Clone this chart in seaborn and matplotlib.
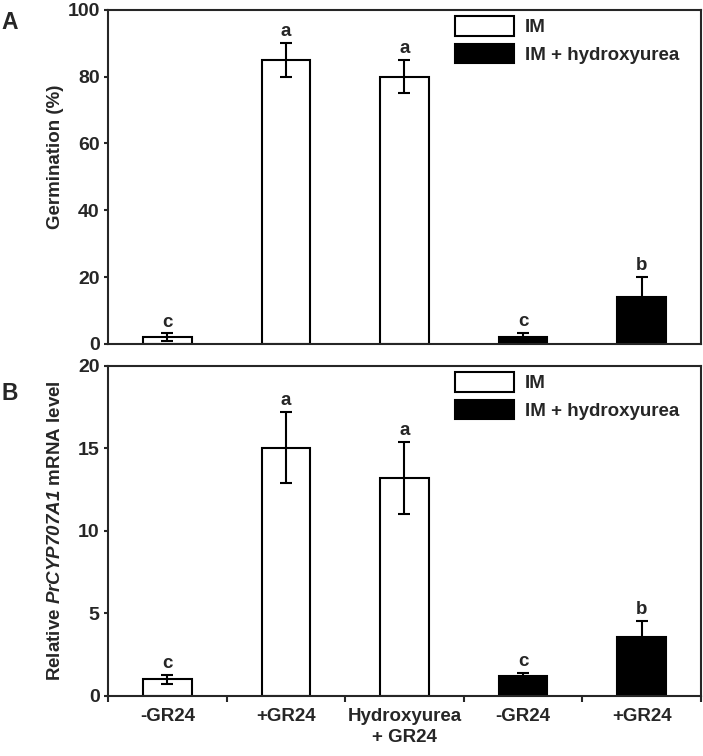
import numpy as np
import pandas as pd
import seaborn as sns
import matplotlib.pyplot as plt
from matplotlib.patches import Patch

# condition keys (unique) and displayed tick labels
conds = ["IM -GR24", "IM +GR24", "IM Hydroxyurea + GR24", "HU -GR24", "HU +GR24"]
tick_labels = ["-GR24", "+GR24", "Hydroxyurea\n+ GR24", "-GR24", "+GR24"]
medium = ["IM", "IM", "IM", "IM + hydroxyurea", "IM + hydroxyurea"]

germ_mean = [2, 85, 80, 2, 14]
germ_err = [1.2, 5, 5, 1.3, 6]
germ_letters = ["c", "a", "a", "c", "b"]

mrna_mean = [1.0, 15.05, 13.2, 1.2, 3.56]
mrna_err = [0.28, 2.15, 2.2, 0.2, 1.0]
mrna_letters = ["c", "a", "a", "c", "b"]

sns.set_style("ticks")
plt.rcParams["font.family"] = ["Liberation Sans", "DejaVu Sans"]
plt.rcParams["font.weight"] = "bold"
plt.rcParams["axes.labelweight"] = "bold"
# math part of the label is only the gene name -> render it all bold italic
plt.rcParams["mathtext.fontset"] = "custom"
plt.rcParams["mathtext.rm"] = "Liberation Sans:italic:bold"
plt.rcParams["mathtext.it"] = "Liberation Sans:italic:bold"

palette = {"IM": "white", "IM + hydroxyurea": "black"}
fs = 13.5

fig = plt.figure(figsize=(7.03, 7.56), dpi=100)
ax_a = fig.add_axes([0.1536, 0.545, 0.8434, 0.442])
ax_b = fig.add_axes([0.1536, 0.0794, 0.8434, 0.4366])


def panel(ax, means, errs, letters, ymax, step, ylabel, label_y, show_x):
    df = pd.DataFrame({"cond": conds, "val": means, "medium": medium})
    sns.barplot(data=df, x="cond", y="val", hue="medium", order=conds,
                palette=palette, dodge=False, width=0.41, edgecolor="black",
                linewidth=1.5, errorbar=None, legend=False, ax=ax)
    xs = np.arange(len(conds))
    ax.errorbar(xs, means, yerr=errs, fmt="none", ecolor="black",
                elinewidth=1.5, capsize=4, capthick=1.5, zorder=3)
    for x, m, e, lab in zip(xs, means, errs, letters):
        ax.annotate(lab, (x, m + e), xytext=(0, 2), textcoords="offset points",
                    ha="center", va="bottom", fontsize=fs, fontweight="bold")
    ax.set_xlim(-0.5, len(conds) - 0.5)
    ax.set_ylim(0, ymax)
    ax.set_yticks(np.arange(0, ymax + 0.1, step))
    ax.set_ylabel(ylabel, fontsize=fs, fontweight="bold")
    ax.yaxis.set_label_coords(-0.074, label_y)
    ax.set_xlabel("")
    for s in ax.spines.values():
        s.set_visible(True)
        s.set_linewidth(1.5)
    ax.tick_params(axis="y", direction="out", length=3, width=1.5, pad=3,
                   labelsize=14)
    if show_x:
        ax.set_xticks(xs)
        ax.set_xticklabels(tick_labels, fontsize=fs, fontweight="bold",
                           linespacing=1.3)
        ax.set_xticks(np.arange(-0.5, len(conds)), minor=True)
        ax.tick_params(axis="x", which="major", length=0, pad=9)
        ax.tick_params(axis="x", which="minor", direction="out", length=4, width=1.5)
    else:
        ax.set_xticks([])
    handles = [Patch(facecolor="white", edgecolor="black", linewidth=1.5, label="IM"),
               Patch(facecolor="black", edgecolor="black", linewidth=1.5,
                     label="IM + hydroxyurea")]
    ax.legend(handles=handles, loc="upper left", bbox_to_anchor=(0.574, 1.0),
              frameon=False, fontsize=fs, handlelength=3.15, handleheight=1.2,
              handletextpad=0.6, labelspacing=0.4, borderaxespad=0.0,
              borderpad=0.35)


panel(ax_a, germ_mean, germ_err, germ_letters, 100, 20, "Germination (%)",
      0.56, False)
panel(ax_b, mrna_mean, mrna_err, mrna_letters, 20, 5,
      r"Relative $\mathrm{PrCYP707A1}$ mRNA level", 0.5, True)

fig.text(0.002, 0.970, "A", fontsize=16.5, fontweight="bold", va="center", ha="left")
fig.text(0.002, 0.479, "B", fontsize=16.5, fontweight="bold", va="center", ha="left")

fig.savefig("out.png", dpi=100)
